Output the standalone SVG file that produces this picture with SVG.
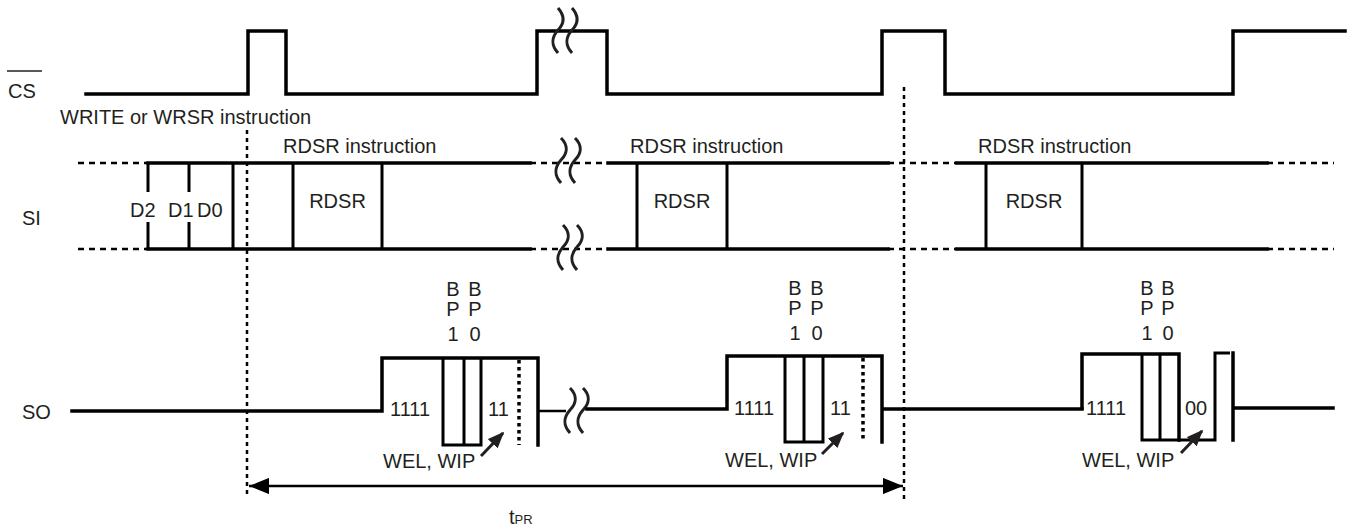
<svg xmlns="http://www.w3.org/2000/svg" width="1354" height="530" viewBox="0 0 1354 530">
<style>
text{font-family:"Liberation Sans",Arial,sans-serif;font-size:20px;fill:#231f20}
.sig{fill:none;stroke:#000;stroke-width:3.5;stroke-linejoin:miter;stroke-linecap:square}
.box{fill:none;stroke:#000;stroke-width:3}
.dash{fill:none;stroke:#000;stroke-width:2.5;stroke-dasharray:6 5}
.vdot{fill:none;stroke:#000;stroke-width:2.5;stroke-dasharray:4 4}
.sdot{fill:none;stroke:#000;stroke-width:3.5;stroke-dasharray:3.5 3.5}
.brk{fill:none;stroke:#231f20;stroke-width:3}
.thin{fill:none;stroke:#000;stroke-width:2.5}
.warr{fill:none;stroke:#231f20;stroke-width:3}
.v{font-size:20px}
</style>
<defs>
<marker id="ah" viewBox="0 0 10 10" refX="10" refY="5" markerWidth="8" markerHeight="6.5" markerUnits="strokeWidth" orient="auto-start-reverse" preserveAspectRatio="none">
<path d="M0 0 L10 5 L0 10 Z" fill="#000"/>
</marker>
<marker id="ah2" viewBox="0 0 10 10" refX="9" refY="5" markerWidth="5.5" markerHeight="4.5" markerUnits="strokeWidth" orient="auto" preserveAspectRatio="none">
<path d="M0 0 L10 5 L0 10 Z" fill="#231f20"/>
</marker>
</defs>

<g id="labels">
<text x="8" y="98">CS</text>
<path d="M7 71 H42" stroke="#231f20" stroke-width="1.5"/>
<text x="22" y="225">SI</text>
<text x="22" y="419">SO</text>
</g>

<g id="cs">
<path class="sig" d="M86 94 H248 V31 H286 V94 H537 V31 H607 V94 H882 V31 H945 V94 H1233 V31 H1345"/>
<path class="brk" d="M558 8 c7 8 7 15 0 22 c-7 8 -7 15 0 23"/>
<path class="brk" d="M572 8 c7 8 7 15 0 22 c-7 8 -7 15 0 23"/>
</g>

<g id="si">
<text x="60" y="124">WRITE or WRSR instruction</text>
<text x="283" y="153">RDSR instruction</text>
<text x="630" y="153">RDSR instruction</text>
<text x="978" y="153">RDSR instruction</text>
<path class="sig" d="M148 163 H530 M608 163 H888 M957 163 H1267 M148 249 H530 M608 249 H888 M957 249 H1267"/>
<path class="dash" d="M78 163 H148 M530 163 H608 M888 163 H957 M1267 163 H1334 M78 249 H148 M530 249 H608 M888 249 H957 M1267 249 H1334"/>
<path class="box" d="M148 163 V192 M148 222 V249 M189 163 V192 M189 222 V249 M233 163 V249 M293 163 V249 M382 163 V249 M637 163 V249 M727 163 V249 M986 163 V249 M1082 163 V249"/>
<text x="130" y="217">D2</text>
<text x="168" y="217">D1</text>
<text x="197" y="217">D0</text>
<text x="337.5" y="208" text-anchor="middle">RDSR</text>
<text x="682" y="208" text-anchor="middle">RDSR</text>
<text x="1034" y="208" text-anchor="middle">RDSR</text>
<path class="brk" d="M561 138 c7 7 7 15 0 22 c-7 8 -7 15 0 23"/>
<path class="brk" d="M575 138 c7 7 7 15 0 22 c-7 8 -7 15 0 23"/>
<path class="brk" d="M563 225 c7 7 7 15 0 22 c-7 8 -7 15 0 23"/>
<path class="brk" d="M577 225 c7 7 7 15 0 22 c-7 8 -7 15 0 23"/>
</g>

<g id="so1">
<path class="sig" d="M72 411 H382 V358 H538 V445"/>
<path class="box" d="M443 358 V445 H481 V358 M464 358 V445"/>
<path class="sdot" d="M519 360 V445"/>
<text x="453" y="296" text-anchor="middle">B</text>
<text x="453" y="316" text-anchor="middle">P</text>
<text x="453" y="341" text-anchor="middle">1</text>
<text x="475" y="296" text-anchor="middle">B</text>
<text x="475" y="316" text-anchor="middle">P</text>
<text x="475" y="341" text-anchor="middle">0</text>
<text class="v" x="390" y="416">1111</text>
<text class="v" x="488" y="416">11</text>
<text x="383" y="468">WEL, WIP</text>
<path class="warr" d="M481 456 L503 433" marker-end="url(#ah2)"/>
<path class="thin" d="M538 411 H566"/>
<path class="brk" d="M570 388 c7 7 7 15 0 22 c-7 8 -7 15 0 23"/>
<path class="brk" d="M583 388 c7 7 7 15 0 22 c-7 8 -7 15 0 23"/>
</g>

<g id="so2">
<path class="sig" d="M587 409 H727 V356 H882 V442 M882 409 H1082"/>
<path class="box" d="M785 356 V442 H823 V356 M804 356 V442"/>
<path class="sdot" d="M863 358 V442"/>
<text x="795" y="295" text-anchor="middle">B</text>
<text x="795" y="315" text-anchor="middle">P</text>
<text x="795" y="340" text-anchor="middle">1</text>
<text x="817" y="295" text-anchor="middle">B</text>
<text x="817" y="315" text-anchor="middle">P</text>
<text x="817" y="340" text-anchor="middle">0</text>
<text class="v" x="734" y="415">1111</text>
<text class="v" x="830" y="415">11</text>
<text x="725" y="467">WEL, WIP</text>
<path class="warr" d="M822 454 L843 433" marker-end="url(#ah2)"/>
</g>

<g id="so3">
<path class="sig" d="M1082 408 V354 H1179 V440"/>
<path class="box" d="M1142 354 V440 H1215 V353 H1230 M1160 354 V440"/>
<path class="sig" d="M1233 353 V440 M1233 408 H1333"/>
<text x="1147" y="295" text-anchor="middle">B</text>
<text x="1147" y="315" text-anchor="middle">P</text>
<text x="1147" y="340" text-anchor="middle">1</text>
<text x="1168" y="295" text-anchor="middle">B</text>
<text x="1168" y="315" text-anchor="middle">P</text>
<text x="1168" y="340" text-anchor="middle">0</text>
<text class="v" x="1086" y="415">1111</text>
<text class="v" x="1185" y="415">00</text>
<text x="1082" y="467">WEL, WIP</text>
<path class="warr" d="M1181 453 L1202 431" marker-end="url(#ah2)"/>
</g>

<g id="connectors">
<path class="vdot" d="M247 130 V495"/>
<path class="vdot" d="M904 87 V503"/>
<path class="thin" d="M249 486 H903" marker-start="url(#ah)" marker-end="url(#ah)"/>
<text x="509" y="524">t<tspan font-size="13">PR</tspan></text>
</g>
</svg>
